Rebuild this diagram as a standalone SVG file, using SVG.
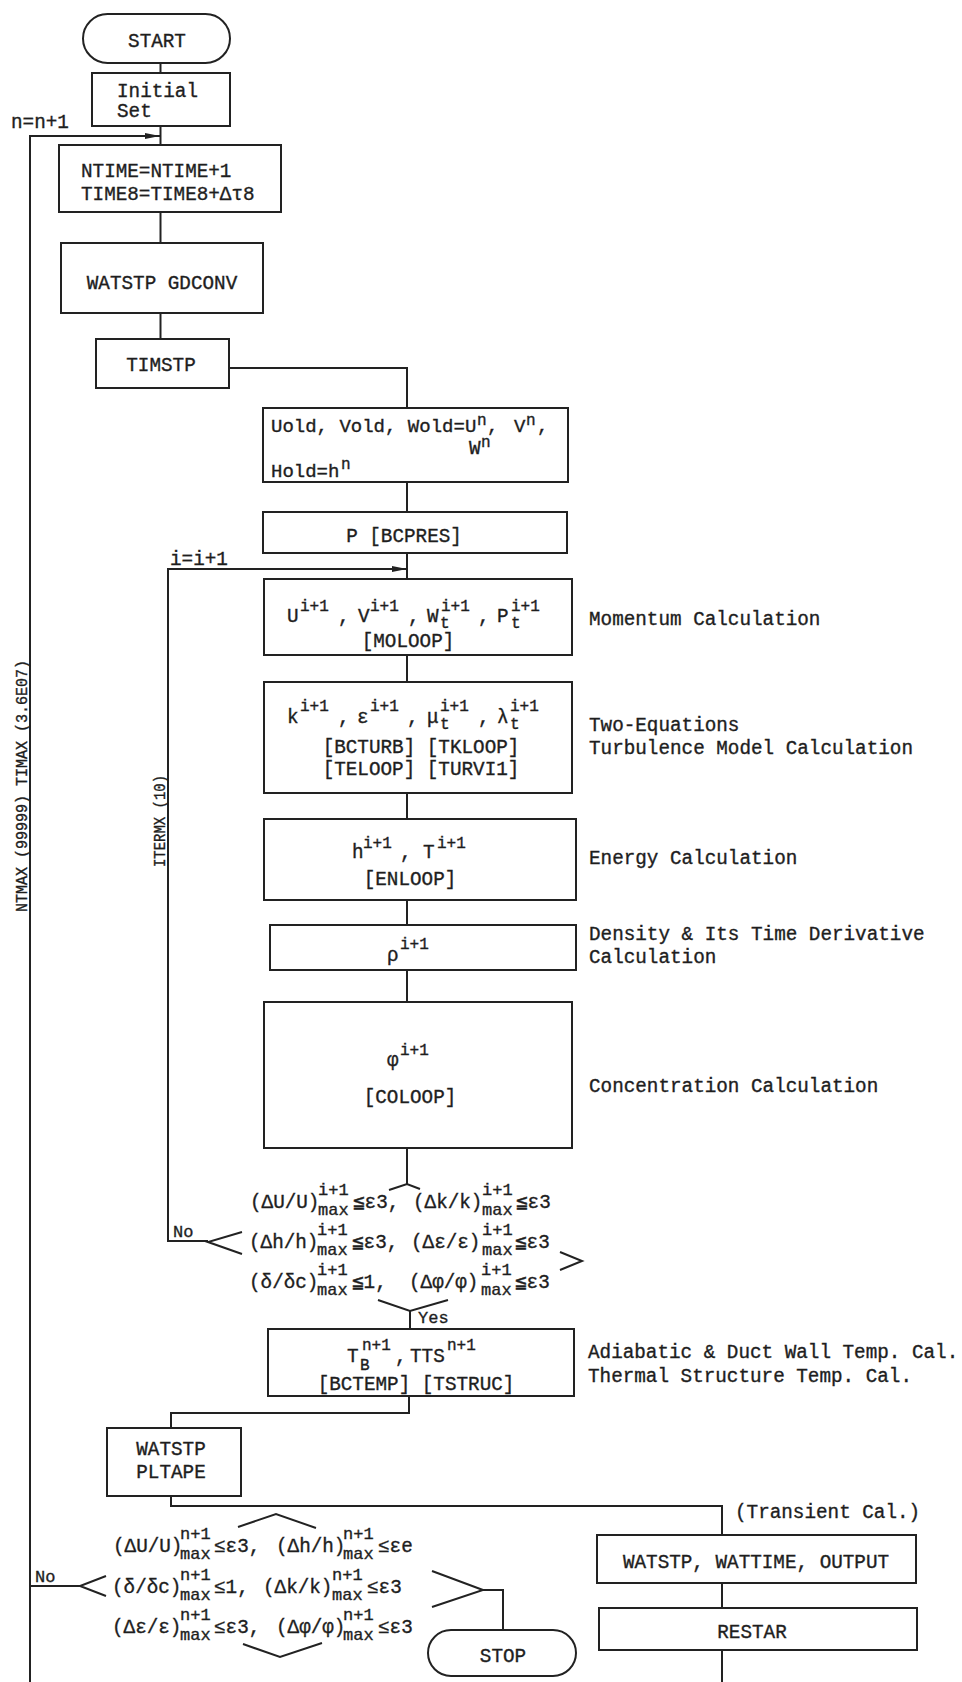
<svg xmlns="http://www.w3.org/2000/svg" width="962" height="1682" viewBox="0 0 962 1682">
<style>
.t{font-family:"Liberation Mono","DejaVu Sans Mono",monospace;font-size:19.3px;fill:#1e1e1e;stroke:#1e1e1e;stroke-width:0.35}
.s{font-size:16px}
.d{font-size:17px}
.c{text-anchor:middle}
.ln{fill:none;stroke:#222;stroke-width:2}
.bx{fill:#fff;stroke:#222;stroke-width:2}
</style>
<defs>
<marker id="ar" markerWidth="15" markerHeight="6" refX="15" refY="3" orient="auto" markerUnits="userSpaceOnUse">
<path d="M0,0 L15,3 L0,6 z" fill="#222"/>
</marker>
</defs>
<rect width="962" height="1682" fill="#fff"/>
<g id="connectors" class="ln">
<path d="M160.5 63 V73"/>
<path d="M160.5 126 V145"/>
<path d="M30 1682 V136 H160" marker-end="url(#ar)"/>
<path d="M160.5 212 V243"/>
<path d="M160.5 313 V339"/>
<path d="M229 368 H407 V408"/>
<path d="M407 482 V512"/>
<path d="M407 553 V579"/>
<path d="M208 1241 H168 V569 H407" marker-end="url(#ar)"/>
<path d="M407 655 V682"/>
<path d="M407 793 V819"/>
<path d="M407 900 V925"/>
<path d="M407 970 V1002"/>
<path d="M407 1148 V1184"/>
<path d="M410 1311 V1329"/>
<path d="M409 1396 V1413 H171 V1428"/>
<path d="M171 1496 V1506 H722 V1535"/>
<path d="M722 1583 V1608"/>
<path d="M722 1650 V1682"/>
<path d="M80 1586 H30"/>
<path d="M483 1590 H503 V1630"/>
</g>
<g id="decision1">
<polyline class="ln" points="389,1190 407,1184 420,1189"/>
<polyline class="ln" points="242,1232 208,1242 242,1254"/>
<polyline class="ln" points="560,1252 582,1261 560,1270"/>
<polyline class="ln" points="378,1300 410,1311 448,1300"/>
<text class="t" y="1208"><tspan x="250">(ΔU/U)</tspan><tspan x="353">≦ε3,</tspan><tspan x="413">(Δk/k)</tspan><tspan x="516">≦ε3</tspan></text>
<text class="t d" y="1195"><tspan x="318">i+1</tspan><tspan x="482">i+1</tspan></text>
<text class="t d" y="1215"><tspan x="318">max</tspan><tspan x="482">max</tspan></text>
<text class="t" y="1248"><tspan x="249">(Δh/h)</tspan><tspan x="352">≦ε3,</tspan><tspan x="411">(Δε/ε)</tspan><tspan x="515">≦ε3</tspan></text>
<text class="t d" y="1235"><tspan x="317">i+1</tspan><tspan x="482">i+1</tspan></text>
<text class="t d" y="1255"><tspan x="317">max</tspan><tspan x="482">max</tspan></text>
<text class="t" y="1288"><tspan x="249">(δ/δc)</tspan><tspan x="352">≦1,</tspan><tspan x="409">(Δφ/φ)</tspan><tspan x="515">≦ε3</tspan></text>
<text class="t d" y="1275"><tspan x="317">i+1</tspan><tspan x="481">i+1</tspan></text>
<text class="t d" y="1295"><tspan x="317">max</tspan><tspan x="481">max</tspan></text>
<text class="t d" x="173" y="1237">No</text>
<text class="t d" x="418" y="1323">Yes</text>
</g>
<g id="decision2">
<polyline class="ln" points="238,1527 276,1514 316,1528"/>
<polyline class="ln" points="106,1576 80,1586 106,1596"/>
<polyline class="ln" points="432,1571 483,1590 432,1607"/>
<polyline class="ln" points="243,1644 280,1657 322,1643"/>
<text class="t" y="1552"><tspan x="113">(ΔU/U)</tspan><tspan x="214">≤ε3,</tspan><tspan x="276">(Δh/h)</tspan><tspan x="378">≤εe</tspan></text>
<text class="t d" y="1539"><tspan x="180">n+1</tspan><tspan x="343">n+1</tspan></text>
<text class="t d" y="1559"><tspan x="180">max</tspan><tspan x="343">max</tspan></text>
<text class="t" y="1593"><tspan x="112">(δ/δc)</tspan><tspan x="214">≤1,</tspan><tspan x="263">(Δk/k)</tspan><tspan x="367">≤ε3</tspan></text>
<text class="t d" y="1580"><tspan x="180">n+1</tspan><tspan x="332">n+1</tspan></text>
<text class="t d" y="1600"><tspan x="180">max</tspan><tspan x="332">max</tspan></text>
<text class="t" y="1633"><tspan x="112">(Δε/ε)</tspan><tspan x="214">≤ε3,</tspan><tspan x="276">(Δφ/φ)</tspan><tspan x="378">≤ε3</tspan></text>
<text class="t d" y="1620"><tspan x="180">n+1</tspan><tspan x="343">n+1</tspan></text>
<text class="t d" y="1640"><tspan x="180">max</tspan><tspan x="343">max</tspan></text>
<text class="t d" x="35" y="1582">No</text>
</g>
<g id="start"><rect class="bx" x="83" y="14" width="147" height="49" rx="24.5"/><text class="t c" x="157" y="47">START</text></g>
<g id="initial"><rect class="bx" x="92" y="73" width="138" height="53"/><text class="t" x="117" y="97">Initial</text><text class="t" x="117" y="117">Set</text></g>
<g id="ntime"><rect class="bx" x="59" y="145" width="222" height="67"/><text class="t" x="81" y="177">NTIME=NTIME+1</text><text class="t" x="81" y="200">TIME8=TIME8+Δτ8</text></g>
<g id="gdconv"><rect class="bx" x="61" y="243" width="202" height="70"/><text class="t c" x="162" y="289">WATSTP GDCONV</text></g>
<g id="timstp"><rect class="bx" x="96" y="339" width="133" height="49"/><text class="t c" x="161" y="371">TIMSTP</text></g>
<g id="uold"><rect class="bx" x="263" y="408" width="305" height="74"/>
<text class="t" y="432" style="font-size:19px"><tspan x="271">Uold, Vold, Wold=</tspan><tspan x="465">U</tspan><tspan x="487">,</tspan><tspan x="514">V</tspan><tspan x="537">,</tspan></text>
<text class="t s" y="425"><tspan x="477">n</tspan><tspan x="526">n</tspan></text>
<text class="t" x="469" y="454">W</text><text class="t s" x="481" y="447">n</text>
<text class="t" x="271" y="477" style="font-size:19px">Hold=h</text><text class="t s" x="341" y="469">n</text>
</g>
<g id="bcpres"><rect class="bx" x="263" y="512" width="304" height="41"/><text class="t c" x="404" y="542">P [BCPRES]</text></g>
<g id="momentum"><rect class="bx" x="264" y="579" width="308" height="76"/>
<text class="t" y="622"><tspan x="287">U</tspan><tspan x="338">,</tspan><tspan x="358">V</tspan><tspan x="408">,</tspan><tspan x="427">W</tspan><tspan x="478">,</tspan><tspan x="497">P</tspan></text>
<text class="t s" y="611"><tspan x="300">i+1</tspan><tspan x="370">i+1</tspan><tspan x="441">i+1</tspan><tspan x="511">i+1</tspan></text>
<text class="t s" y="628"><tspan x="440">t</tspan><tspan x="511">t</tspan></text>
<text class="t c" x="408" y="647">[MOLOOP]</text>
</g>
<g id="turbulence"><rect class="bx" x="264" y="682" width="308" height="111"/>
<text class="t" y="723"><tspan x="287">k</tspan><tspan x="338">,</tspan><tspan x="357">ε</tspan><tspan x="407">,</tspan><tspan x="427">μ</tspan><tspan x="478">,</tspan><tspan x="497">λ</tspan></text>
<text class="t s" y="711"><tspan x="300">i+1</tspan><tspan x="370">i+1</tspan><tspan x="440">i+1</tspan><tspan x="510">i+1</tspan></text>
<text class="t s" y="729"><tspan x="440">t</tspan><tspan x="510">t</tspan></text>
<text class="t c" x="421" y="753">[BCTURB] [TKLOOP]</text>
<text class="t c" x="421" y="775">[TELOOP] [TURVI1]</text>
</g>
<g id="energy"><rect class="bx" x="264" y="819" width="312" height="81"/>
<text class="t" y="858"><tspan x="352">h</tspan><tspan x="400">,</tspan><tspan x="423">T</tspan></text>
<text class="t s" y="848"><tspan x="363">i+1</tspan><tspan x="437">i+1</tspan></text>
<text class="t c" x="410" y="885">[ENLOOP]</text>
</g>
<g id="density"><rect class="bx" x="270" y="925" width="306" height="45"/>
<text class="t" x="387" y="961">ρ</text><text class="t s" x="400" y="949">i+1</text>
</g>
<g id="concentration"><rect class="bx" x="264" y="1002" width="308" height="146"/>
<text class="t" x="387" y="1066">φ</text><text class="t s" x="400" y="1055">i+1</text>
<text class="t c" x="410" y="1103">[COLOOP]</text>
</g>
<g id="tbox"><rect class="bx" x="268" y="1329" width="306" height="67"/>
<text class="t" y="1362"><tspan x="347">T</tspan><tspan x="395">,</tspan><tspan x="410">TTS</tspan></text>
<text class="t s" y="1350"><tspan x="362">n+1</tspan><tspan x="447">n+1</tspan></text>
<text class="t s" x="360" y="1370">B</text>
<text class="t c" x="416" y="1390">[BCTEMP] [TSTRUC]</text>
</g>
<g id="pltape"><rect class="bx" x="107" y="1428" width="134" height="68"/><text class="t c" x="171" y="1455">WATSTP</text><text class="t c" x="171" y="1478">PLTAPE</text></g>
<g id="stop"><rect class="bx" x="428" y="1630" width="148" height="46" rx="23"/><text class="t c" x="503" y="1662">STOP</text></g>
<g id="wattime"><rect class="bx" x="597" y="1535" width="319" height="48"/><text class="t c" x="756" y="1568">WATSTP, WATTIME, OUTPUT</text></g>
<g id="restar"><rect class="bx" x="599" y="1608" width="318" height="42"/><text class="t c" x="752" y="1638">RESTAR</text></g>
<g id="labels">
<text class="t" x="11" y="128">n=n+1</text>
<text class="t" x="170" y="565">i=i+1</text>
<text class="t s c" transform="translate(27,786) rotate(-90)" textLength="252" lengthAdjust="spacingAndGlyphs">NTMAX (99999)  TIMAX (3.6E07)</text>
<text class="t s c" transform="translate(165,821) rotate(-90)" textLength="92" lengthAdjust="spacingAndGlyphs">ITERMX (10)</text>
<text class="t" x="589" y="625">Momentum Calculation</text>
<text class="t" x="589" y="731">Two-Equations</text>
<text class="t" x="589" y="754">Turbulence Model Calculation</text>
<text class="t" x="589" y="864">Energy Calculation</text>
<text class="t" x="589" y="940">Density &amp; Its Time Derivative</text>
<text class="t" x="589" y="963">Calculation</text>
<text class="t" x="589" y="1092">Concentration Calculation</text>
<text class="t" x="588" y="1358">Adiabatic &amp; Duct Wall Temp. Cal.</text>
<text class="t" x="588" y="1382">Thermal Structure Temp. Cal.</text>
<text class="t" x="735" y="1518">(Transient Cal.)</text>
</g>
</svg>
